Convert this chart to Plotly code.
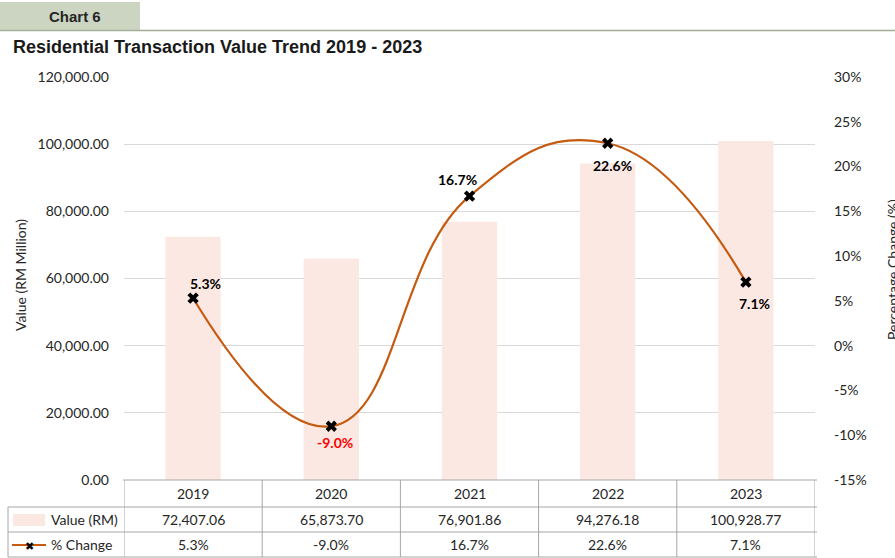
import plotly.graph_objects as go

years = ["2019", "2020", "2021", "2022", "2023"]
values = [72407.06, 65873.70, 76901.86, 94276.18, 100928.77]
pct_change = [5.3, -9.0, 16.7, 22.6, 7.1]
value_labels = ["72,407.06", "65,873.70", "76,901.86", "94,276.18", "100,928.77"]
pct_labels = ["5.3%", "-9.0%", "16.7%", "22.6%", "7.1%"]
left_ticks = [0, 20000, 40000, 60000, 80000, 100000, 120000]
right_ticks = [-15, -10, -5, 0, 5, 10, 15, 20, 25, 30]
right_tick_text = [f"{v}%" for v in right_ticks]

# label offsets in pixels (style)
label_shift = [(12, 15), (4, -16), (-12, 17), (5, -22), (9, -21)]

W, H = 895, 558
L, R, T, B = 124, 80, 77, 78
PW, PH = W - L - R, H - T - B


def px(x):
    return (x - L) / PW


def py(y):
    return (T + PH - y) / PH


BAR_C = "#FCE8E3"
LINE_C = "#C55A11"
GRID_C = "#D9D9D9"
TABLE_C = "#A6A6A6"
TXT = "#262626"
FONT = "Lato"
FS = 14

xs = list(range(len(years)))

fig = go.Figure()
fig.add_trace(go.Bar(x=xs, y=values, width=0.4, marker=dict(color=BAR_C, line=dict(width=0)),
                     yaxis="y", name="Value (RM)"))
fig.add_trace(go.Scatter(x=xs, y=pct_change, yaxis="y2", mode="lines+markers",
                         line=dict(color=LINE_C, width=2.2, shape="spline", smoothing=1.3),
                         marker=dict(symbol="x", size=10, color="black"), name="% Change"))

fig.update_layout(
    width=W, height=H, margin=dict(l=L, r=R, t=T, b=B, autoexpand=False),
    paper_bgcolor="white", plot_bgcolor="white", showlegend=False,
    font=dict(family=FONT, color=TXT, size=FS),
    xaxis=dict(range=[-0.5, len(years) - 0.5], showticklabels=False, showgrid=False,
               zeroline=False, showline=False, fixedrange=True),
    yaxis=dict(range=[0, 120000], tickvals=left_ticks, tickformat=",.2f", showgrid=True,
               gridcolor=GRID_C, gridwidth=1, zeroline=False, showline=False,
               ticks="", ticklabelstandoff=14, tickfont=dict(size=FS, family=FONT, color=TXT)),
    yaxis2=dict(range=[-15, 30], tickvals=right_ticks, ticktext=right_tick_text, overlaying="y", side="right",
                showgrid=False, zeroline=False, showline=False, ticks="", ticklabelstandoff=18,
                tickfont=dict(size=FS, family=FONT, color=TXT)),
)

shapes = []
# header band
shapes.append(dict(type="rect", xref="paper", yref="paper", x0=px(0), x1=px(140), y0=py(30), y1=py(2),
                   fillcolor="#CBD5C1", line=dict(width=0), layer="below"))
shapes.append(dict(type="line", xref="paper", yref="paper", x0=px(0), x1=px(895), y0=py(30.5), y1=py(30.5),
                   line=dict(color="#A3AE96", width=1.5)))

# table lines
line_style = dict(color=TABLE_C, width=1)
row_y = [480, 507, 532, 557]
n = len(years)
shapes.append(dict(type="line", xref="paper", yref="paper", x0=px(123), x1=px(817), y0=py(480), y1=py(480), line=line_style))
for yy in row_y[1:]:
    shapes.append(dict(type="line", xref="paper", yref="paper", x0=px(8), x1=px(817), y0=py(yy), y1=py(yy), line=line_style))
shapes.append(dict(type="line", xref="paper", yref="paper", x0=px(8), x1=px(8), y0=py(507), y1=py(557), line=line_style))
for i in range(n + 1):
    shapes.append(dict(type="line", xref="x", yref="paper", x0=i - 0.5, x1=i - 0.5, y0=py(480), y1=py(557), line=line_style))
# legend keys
shapes.append(dict(type="rect", xref="paper", yref="paper", x0=px(13), x1=px(45), y0=py(526), y1=py(514),
                   fillcolor=BAR_C, line=dict(width=0)))
shapes.append(dict(type="line", xref="paper", yref="paper", x0=px(12), x1=px(46), y0=py(545), y1=py(545),
                   line=dict(color=LINE_C, width=2.2)))

ann = []
ann.append(dict(text="<b>Chart 6</b>", xref="paper", yref="paper", x=px(47), y=py(16), xanchor="left",
                yanchor="middle", showarrow=False, font=dict(family="Liberation Sans", size=15, color="#262626")))
ann.append(dict(text="<b>Residential Transaction Value Trend 2019 - 2023</b>", xref="paper", yref="paper",
                x=px(11), y=py(47), xanchor="left", yanchor="middle", showarrow=False,
                font=dict(family="Liberation Sans", size=18, color="#1a1a1a")))
ann.append(dict(text="Value (RM Million)", xref="paper", yref="paper", x=px(20), y=py(275), textangle=-90,
                xanchor="center", yanchor="middle", showarrow=False, font=dict(family=FONT, size=FS, color=TXT)))
ann.append(dict(text="Percentage Change (%)", xref="paper", yref="paper", x=px(892), y=py(270), textangle=-90,
                xanchor="center", yanchor="middle", showarrow=False, font=dict(family=FONT, size=FS, color=TXT)))

# data labels
for i, (v, lab) in enumerate(zip(pct_change, pct_labels)):
    dx, dy = label_shift[i]
    ann.append(dict(text=f"<b>{lab}</b>", x=i, y=v, xref="x", yref="y2", xshift=dx, yshift=dy,
                    xanchor="center", yanchor="middle",
                    showarrow=False, font=dict(family=FONT, size=FS, color="#FF0000" if v < 0 else "black")))

# table text
cell = dict(xref="x", yref="paper", xanchor="center", yanchor="middle", showarrow=False,
            font=dict(family=FONT, size=FS, color=TXT))
for i in range(n):
    ann.append(dict(text=years[i], x=i, y=py(493.5), **cell))
    ann.append(dict(text=value_labels[i], x=i, y=py(519.5), **cell))
    ann.append(dict(text=pct_labels[i], x=i, y=py(544.5), **cell))
ann.append(dict(text="Value (RM)", x=px(49), y=py(519.5), xref="paper", yref="paper", xanchor="left",
                yanchor="middle", showarrow=False, font=dict(family=FONT, size=FS, color=TXT)))
ann.append(dict(text="% Change", x=px(49), y=py(544.5), xref="paper", yref="paper", xanchor="left",
                yanchor="middle", showarrow=False, font=dict(family=FONT, size=FS, color=TXT)))
ann.append(dict(text="\u2716", x=px(29), y=py(545), xref="paper", yref="paper", xanchor="center",
                yanchor="middle", showarrow=False, font=dict(size=11, color="black")))

fig.update_layout(shapes=shapes, annotations=ann)
fig.write_html("out.html", config={"displayModeBar": False},
               post_script="document.body.style.margin='0';document.body.style.padding='0';")
